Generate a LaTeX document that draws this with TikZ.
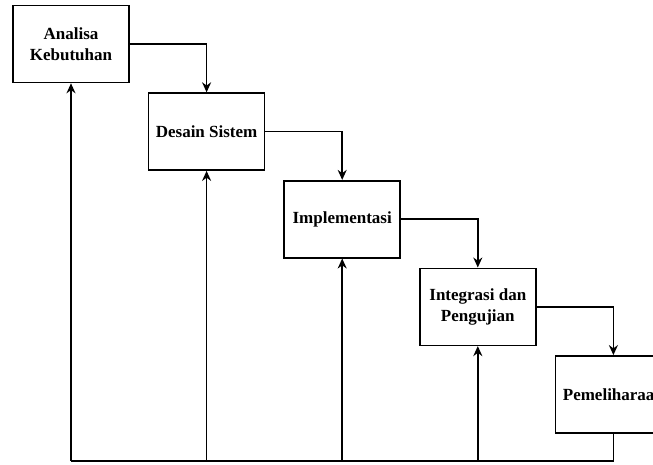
\documentclass[tikz,border=0pt]{standalone}
\usepackage{fontspec}
\setmainfont{Liberation Serif}
\usetikzlibrary{positioning, arrows.meta}

\begin{document}
\begin{tikzpicture}[
        x=1pt, y=1pt,
        node distance=9pt and 18pt,
        every node/.style={font=\bfseries\fontsize{17}{21}\selectfont},
        box/.style={draw, rectangle, line width=1.6pt, minimum height=77pt, minimum width=116pt, align=center, inner sep=2pt},
        flow/.style={-{Stealth[length=10pt, width=9pt]}, line width=1.6pt}
    ]
    \clip (0,0) rectangle (653,-464);

    \node[box] (analisa) at (71,-44) {Analisa\\Kebutuhan};
    \node[box, below right=of analisa] (desain) {Desain Sistem};
    \node[box, below right=of desain] (implementasi) {Implementasi};
    \node[box, below right=of implementasi] (integrasi) {Integrasi dan\\Pengujian};
    \node[box, below right=of integrasi] (pemeliharaan) {Pemeliharaan};

    \coordinate (bottom) at (pemeliharaan.south |- 0,-461);

    % forward steps
    \draw[flow] (analisa.east) -| (desain.north);
    \draw[flow] (desain.east) -| (implementasi.north);
    \draw[flow] (implementasi.east) -| (integrasi.north);
    \draw[flow] (integrasi.east) -| (pemeliharaan.north);

    % feedback
    \draw[line width=1.6pt] (pemeliharaan.south) -- (bottom) -- (analisa.south |- bottom);
    \foreach \n in {analisa, desain, implementasi, integrasi}
        \draw[flow] (\n.south |- bottom) -- (\n.south);

\end{tikzpicture}
\end{document}
